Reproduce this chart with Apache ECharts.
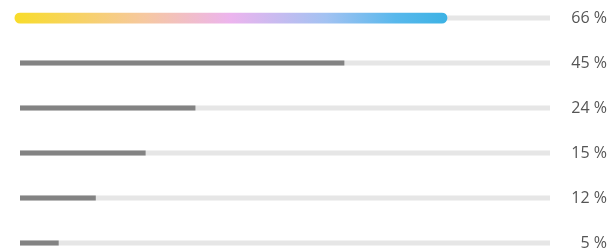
<!DOCTYPE html>
<html>
<head>
<meta charset="utf-8">
<script src="https://cdn.jsdelivr.net/npm/echarts@6/dist/echarts.min.js"></script>
<style>
  html, body { margin: 0; padding: 0; background: #fff; }
  #chart { width: 610px; height: 252px; }
</style>
</head>
<body>
<div id="chart"></div>
<script>
// rows, top to bottom
var categories = ['r1', 'r2', 'r3', 'r4', 'r5', 'r6'];
var percentLabels = ['66 %', '45 %', '24 %', '15 %', '12 %', '5 %'];
// bar lengths as drawn, on a 0-100 track
var barLengths = [79.6, 61.2, 33.1, 23.7, 14.3, 7.3];
var trackMax = 100;

var myChart = echarts.init(document.getElementById('chart'));

var trackData = categories.map(function () { return trackMax; });
var grayData = barLengths.map(function (v, i) { return i === 0 ? '-' : v; });
var topLine = [[0, 0], [barLengths[0], 0]];

var option = {
    animation: false,
    grid: { left: 20, right: 59, top: 18, bottom: 9 },
    xAxis: {
        type: 'value',
        min: 0,
        max: trackMax,
        show: false
    },
    yAxis: [
        {
            type: 'category',
            data: categories,
            inverse: true,
            boundaryGap: false,
            show: false
        },
        {
            type: 'category',
            data: percentLabels,
            inverse: true,
            boundaryGap: false,
            position: 'right',
            axisLine: { show: false },
            axisTick: { show: false },
            axisLabel: {
                align: 'right',
                margin: 57,
                color: '#555',
                fontSize: 16,
                fontFamily: 'Open Sans'
            }
        }
    ],
    series: [
        {
            // background track
            type: 'bar',
            data: trackData,
            barWidth: 5,
            barGap: '-100%',
            itemStyle: { color: '#e6e6e6' },
            silent: true,
            z: 1
        },
        {
            type: 'bar',
            data: grayData,
            barWidth: 5,
            itemStyle: { color: '#838383' },
            z: 2
        },
        {
            // first row: thick gradient bar with round ends
            type: 'line',
            data: topLine,
            symbol: 'none',
            z: 3,
            lineStyle: {
                width: 11,
                cap: 'round',
                color: new echarts.graphic.LinearGradient(0, 0, 1, 0, [
                    { offset: 0, color: '#f8dc2a' },
                    { offset: 0.3, color: '#f6c8a0' },
                    { offset: 0.5, color: '#ecb4ee' },
                    { offset: 0.72, color: '#a2c2f2' },
                    { offset: 0.88, color: '#58b8ec' },
                    { offset: 1, color: '#3cb2e4' }
                ])
            }
        }
    ]
};
myChart.setOption(option);
</script>
</body>
</html>
